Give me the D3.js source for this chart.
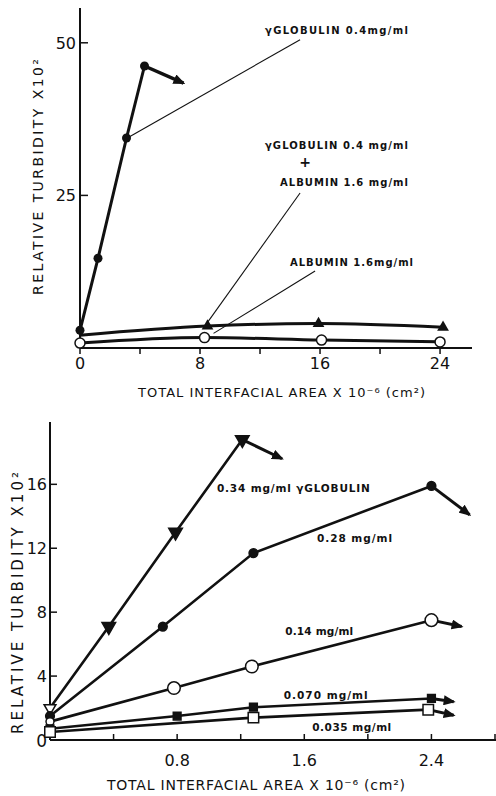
<!DOCTYPE html>
<html>
<head>
<meta charset="utf-8">
<script src="https://cdn.jsdelivr.net/npm/d3@7"></script>
<style>
  body { margin: 0; background: #fff; }
  text { font-family: "DejaVu Sans", sans-serif; fill: #111; }
</style>
</head>
<body>
<svg id="chart"></svg>
<script>
// ---- upper panel data ----
var topTicksX = [0, 4, 8, 12, 16, 20, 24];
var topLabelsX = [0, 8, 16, 24];
var topTicksY = [25, 50];

var gammaX = [0, 1.2, 3.1, 4.3];
var gammaY = [2.9, 14.7, 34.4, 46.2];
var gammaArrow = [6.9, 43.4];

var mixX = [0, 8.5, 15.9, 24.2];
var mixY = [2.1, 3.6, 4.0, 3.4];

var albX = [0, 8.3, 16.1, 24];
var albY = [0.8, 1.7, 1.3, 1.0];

// ---- lower panel data ----
var botTicksX = [0.4, 0.8, 1.2, 1.6, 2.0, 2.4, 2.8];
var botLabelsX = [0.8, 1.6, 2.4];
var botTicksY = [4, 8, 12, 16];

var g034X = [0, 0.37, 0.79, 1.21];
var g034Y = [2.0, 7.1, 13.0, 18.8];
var g034Arrow = [1.46, 17.6];

var g028X = [0, 0.71, 1.28, 2.40];
var g028Y = [1.5, 7.1, 11.7, 15.9];
var g028Arrow = [2.64, 14.1];

var g014X = [0, 0.78, 1.27, 2.40];
var g014Y = [1.15, 3.25, 4.6, 7.5];
var g014Arrow = [2.59, 7.1];

var g070X = [0, 0.80, 1.28, 2.40];
var g070Y = [0.7, 1.5, 2.05, 2.6];
var g070Arrow = [2.54, 2.4];

var g035X = [0, 1.28, 2.38];
var g035Y = [0.5, 1.4, 1.9];
var g035Arrow = [2.54, 1.55];

var W = 496, H = 796;

var svg = d3.select('#chart')
  .attr('width', W)
  .attr('height', H);

var defs = svg.append('defs');
defs.append('marker')
  .attr('id', 'head')
  .attr('markerUnits', 'userSpaceOnUse')
  .attr('viewBox', '0 0 12 10')
  .attr('refX', 10).attr('refY', 5)
  .attr('markerWidth', 12).attr('markerHeight', 10)
  .attr('orient', 'auto')
  .append('path')
  .attr('d', 'M0,0 L12,5 L0,10 Z')
  .attr('fill', '#111');

function pts(xs, ys) {
  return xs.map(function(d, i) { return [d, ys[i]]; });
}

// ================= upper panel =================
var x1 = d3.scaleLinear().domain([0, 26.13]).range([80, 472]);
var y1 = d3.scaleLinear().domain([0, 55.7]).range([348, 8]);

var topG = svg.append('g');

topG.append('line')
  .attr('x1', x1(0)).attr('x2', x1(26.13))
  .attr('y1', y1(0)).attr('y2', y1(0))
  .attr('stroke', '#111').attr('stroke-width', 2);
topG.append('line')
  .attr('x1', x1(0)).attr('x2', x1(0))
  .attr('y1', y1(0)).attr('y2', y1(55.7))
  .attr('stroke', '#111').attr('stroke-width', 2);

topG.selectAll('.xt').data(topTicksX).join('line')
  .attr('x1', d => x1(d)).attr('x2', d => x1(d))
  .attr('y1', y1(0)).attr('y2', y1(0) + 6)
  .attr('stroke', '#111').attr('stroke-width', 1.5);
topG.selectAll('.xl').data(topLabelsX).join('text')
  .attr('x', d => x1(d)).attr('y', y1(0) + 21)
  .attr('text-anchor', 'middle')
  .attr('font-size', 16)
  .text(d => d);

topG.selectAll('.yt').data(topTicksY).join('line')
  .attr('x1', x1(0)).attr('x2', x1(0) + 8)
  .attr('y1', d => y1(d)).attr('y2', d => y1(d))
  .attr('stroke', '#111').attr('stroke-width', 1.5);
topG.selectAll('.yl').data(topTicksY).join('text')
  .attr('x', x1(0) - 4).attr('y', d => y1(d) + 6)
  .attr('text-anchor', 'end')
  .attr('font-size', 16)
  .text(d => d);

topG.append('text')
  .attr('transform', 'translate(43,177) rotate(-90)')
  .attr('text-anchor', 'middle')
  .attr('font-size', 14)
  .attr('textLength', 236).attr('lengthAdjust', 'spacing')
  .text('RELATIVE TURBIDITY X10²');

topG.append('text')
  .attr('x', 138).attr('y', 397)
  .attr('font-size', 13)
  .attr('textLength', 287).attr('lengthAdjust', 'spacing')
  .text('TOTAL INTERFACIAL AREA X 10⁻⁶ (cm²)');

var lin1 = d3.line().x(d => x1(d[0])).y(d => y1(d[1]));
var smooth1 = d3.line().x(d => x1(d[0])).y(d => y1(d[1])).curve(d3.curveMonotoneX);

topG.append('path').datum(pts(mixX, mixY))
  .attr('d', smooth1).attr('fill', 'none')
  .attr('stroke', '#111').attr('stroke-width', 3);
topG.append('path').datum(pts(albX, albY))
  .attr('d', smooth1).attr('fill', 'none')
  .attr('stroke', '#111').attr('stroke-width', 3);
topG.append('path').datum(pts(gammaX, gammaY))
  .attr('d', lin1).attr('fill', 'none')
  .attr('stroke', '#111').attr('stroke-width', 3);
topG.append('line')
  .attr('x1', x1(gammaX[3])).attr('y1', y1(gammaY[3]))
  .attr('x2', x1(gammaArrow[0])).attr('y2', y1(gammaArrow[1]))
  .attr('stroke', '#111').attr('stroke-width', 3.5)
  .attr('marker-end', 'url(#head)');

topG.selectAll('.gm').data(pts(gammaX, gammaY)).join('circle')
  .attr('cx', d => x1(d[0])).attr('cy', d => y1(d[1]))
  .attr('r', 4.5).attr('fill', '#111');
topG.selectAll('.mm').data(pts(mixX, mixY).slice(1)).join('path')
  .attr('transform', d => `translate(${x1(d[0])},${y1(d[1])})`)
  .attr('d', d3.symbol(d3.symbolTriangle, 60))
  .attr('fill', '#111');
topG.selectAll('.am').data(pts(albX, albY)).join('circle')
  .attr('cx', d => x1(d[0])).attr('cy', d => y1(d[1]))
  .attr('r', 5).attr('fill', '#fff')
  .attr('stroke', '#111').attr('stroke-width', 1.5);

// annotations (data units)
var note = topG.append('g').attr('font-size', 10).attr('font-weight', 'bold');
function leader(a, b) {
  note.append('line')
    .attr('x1', x1(a[0])).attr('y1', y1(a[1]))
    .attr('x2', x1(b[0])).attr('y2', y1(b[1]))
    .attr('stroke', '#111').attr('stroke-width', 1.1);
}
note.append('text').attr('x', x1(12.33)).attr('y', y1(51.5))
  .attr('textLength', 143).attr('lengthAdjust', 'spacing')
  .text('γGLOBULIN  0.4mg/ml');
leader([14.67, 50.5], [3.3, 34.6]);

note.append('text').attr('x', x1(12.33)).attr('y', y1(32.6))
  .attr('textLength', 143).attr('lengthAdjust', 'spacing')
  .text('γGLOBULIN   0.4 mg/ml');
note.append('text').attr('x', x1(15.0)).attr('y', y1(29.6))
  .attr('text-anchor', 'middle').attr('font-size', 14)
  .text('+');
note.append('text').attr('x', x1(13.33)).attr('y', y1(26.5))
  .attr('textLength', 128).attr('lengthAdjust', 'spacing')
  .text('ALBUMIN   1.6 mg/ml');
leader([14.67, 25.4], [8.5, 4.2]);

note.append('text').attr('x', x1(14.0)).attr('y', y1(13.4))
  .attr('textLength', 123).attr('lengthAdjust', 'spacing')
  .text('ALBUMIN  1.6mg/ml');
leader([15.67, 12.6], [8.9, 2.4]);

// ================= lower panel =================
var x2 = d3.scaleLinear().domain([0, 2.8]).range([50, 495]);
var y2 = d3.scaleLinear().domain([0, 19.9]).range([740, 422]);

var botG = svg.append('g');

botG.append('line')
  .attr('x1', x2(0)).attr('x2', W)
  .attr('y1', y2(0)).attr('y2', y2(0))
  .attr('stroke', '#111').attr('stroke-width', 2);
botG.append('line')
  .attr('x1', x2(0)).attr('x2', x2(0))
  .attr('y1', y2(0)).attr('y2', y2(19.9))
  .attr('stroke', '#111').attr('stroke-width', 2);

botG.selectAll('.xt').data(botTicksX).join('line')
  .attr('x1', d => x2(d)).attr('x2', d => x2(d))
  .attr('y1', y2(0)).attr('y2', y2(0) - 6)
  .attr('stroke', '#111').attr('stroke-width', 1.5);
botG.selectAll('.xl').data(botLabelsX).join('text')
  .attr('x', d => x2(d)).attr('y', y2(0) + 26)
  .attr('text-anchor', 'middle')
  .attr('font-size', 16)
  .text(d => d3.format('.1f')(d));

botG.selectAll('.yt').data(botTicksY).join('line')
  .attr('x1', x2(0)).attr('x2', x2(0) + 7)
  .attr('y1', d => y2(d)).attr('y2', d => y2(d))
  .attr('stroke', '#111').attr('stroke-width', 1.5);
botG.selectAll('.yl').data(botTicksY).join('text')
  .attr('x', x2(0) - 3).attr('y', d => y2(d) + 6)
  .attr('text-anchor', 'end')
  .attr('font-size', 16)
  .text(d => d);
botG.append('text')
  .attr('x', x2(0) - 3).attr('y', y2(0) + 7)
  .attr('text-anchor', 'end')
  .attr('font-size', 17)
  .text('0');

botG.append('text')
  .attr('transform', 'translate(23,603) rotate(-90)')
  .attr('text-anchor', 'middle')
  .attr('font-size', 15)
  .attr('textLength', 262).attr('lengthAdjust', 'spacing')
  .text('RELATIVE TURBIDITY X10²');

botG.append('text')
  .attr('x', 107).attr('y', 790)
  .attr('font-size', 14)
  .attr('textLength', 298).attr('lengthAdjust', 'spacing')
  .text('TOTAL INTERFACIAL AREA X 10⁻⁶ (cm²)');

var lin2 = d3.line().x(d => x2(d[0])).y(d => y2(d[1]));

var series = [
  { xs: g034X, ys: g034Y, arrow: g034Arrow },
  { xs: g028X, ys: g028Y, arrow: g028Arrow },
  { xs: g014X, ys: g014Y, arrow: g014Arrow },
  { xs: g070X, ys: g070Y, arrow: g070Arrow },
  { xs: g035X, ys: g035Y, arrow: g035Arrow }
];

series.forEach(function(s) {
  var p = pts(s.xs, s.ys);
  var last = p[p.length - 1];
  botG.append('path').datum(p)
    .attr('d', lin2).attr('fill', 'none')
    .attr('stroke', '#111').attr('stroke-width', 2.6);
  botG.append('line')
    .attr('x1', x2(last[0])).attr('y1', y2(last[1]))
    .attr('x2', x2(s.arrow[0])).attr('y2', y2(s.arrow[1]))
    .attr('stroke', '#111').attr('stroke-width', 3)
    .attr('marker-end', 'url(#head)');
});

function sym(g, p, type, size, rot, filled) {
  g.selectAll(null).data(p).join('path')
    .attr('transform', d => `translate(${x2(d[0])},${y2(d[1])}) rotate(${rot})`)
    .attr('d', d3.symbol(type, size))
    .attr('fill', filled ? '#111' : '#fff')
    .attr('stroke', '#111').attr('stroke-width', 1.5);
}

// 0.34: open triangle at zero, filled after
var p034 = pts(g034X, g034Y);
sym(botG, p034.slice(0, 1), d3.symbolTriangle, 60, 180, false);
sym(botG, p034.slice(1), d3.symbolTriangle, 80, 180, true);
sym(botG, pts(g028X, g028Y), d3.symbolCircle, 60, 0, true);
var p014 = pts(g014X, g014Y);
sym(botG, p014.slice(0, 1), d3.symbolCircle, 50, 0, false);
sym(botG, p014.slice(1), d3.symbolCircle, 125, 0, false);
sym(botG, pts(g070X, g070Y), d3.symbolSquare, 60, 0, true);
sym(botG, pts(g035X, g035Y), d3.symbolSquare, 110, 0, false);

var note2 = botG.append('g').attr('font-size', 10.5).attr('font-weight', 'bold');
var botNotes = [
  { t: '0.34 mg/ml γGLOBULIN', x: 1.05, y: 15.5, w: 153 },
  { t: '0.28 mg/ml', x: 1.68, y: 12.4, w: 75 },
  { t: '0.14 mg/ml', x: 1.48, y: 6.56, w: 68 },
  { t: '0.070 mg/ml', x: 1.47, y: 2.56, w: 84 },
  { t: '0.035 mg/ml', x: 1.65, y: 0.56, w: 79 }
];
note2.selectAll('text').data(botNotes).join('text')
  .attr('x', d => x2(d.x)).attr('y', d => y2(d.y))
  .attr('textLength', d => d.w).attr('lengthAdjust', 'spacing')
  .text(d => d.t);
</script>
</body>
</html>
